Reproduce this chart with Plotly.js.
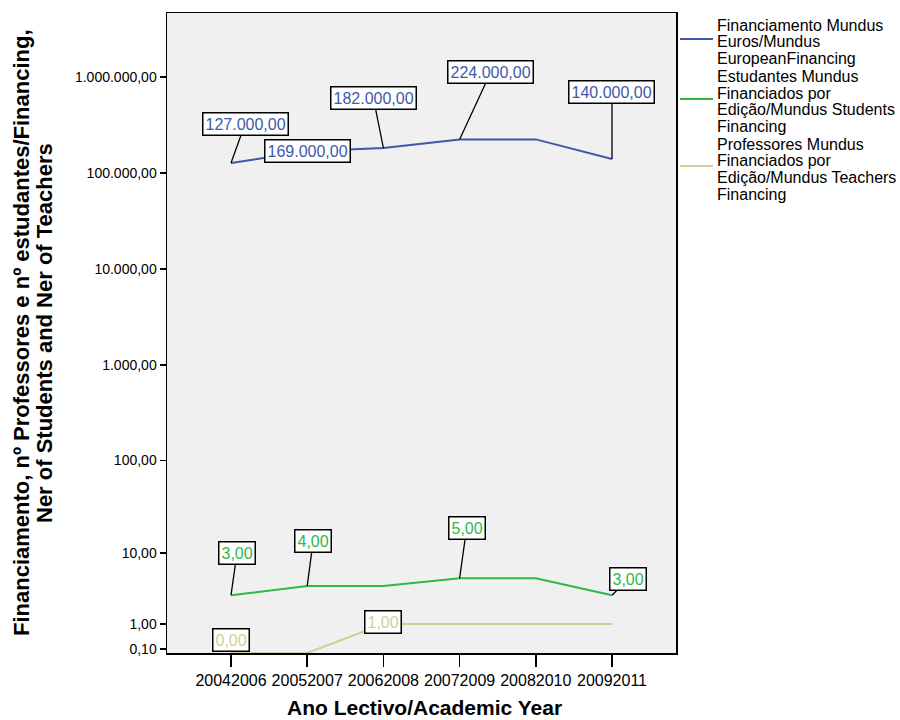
<!DOCTYPE html>
<html><head><meta charset="utf-8">
<script src="https://cdn.plot.ly/plotly-3.0.1.min.js"></script>
<style>html,body{margin:0;padding:0;background:#fff}</style>
</head><body>
<div id="chart" style="width:900px;height:720px"></div>
<script>
const years = ["20042006","20052007","20062008","20072009","20082010","20092011"];
const financing = [127000,169000,182000,224000,224000,140000];
const students = [3,4,4,5,5,3];
const teachers = [0,0,1,1,1,1];
const tickValues = [0.1,1,10,100,1000,10000,100000,1000000];
const tickLabels = ["0,10","1,00","10,00","100,00","1.000,00","10.000,00","100.000,00","1.000.000,00"];
const seriesNames = [
  ["Financiamento Mundus","Euros/Mundus","EuropeanFinancing"],
  ["Estudantes Mundus","Financiados por","Edição/Mundus Students","Financing"],
  ["Professores Mundus","Financiados por","Edição/Mundus Teachers","Financing"]
];
const yTitleLines = ["Financiamento, nº Professores e nº estudantes/Financing,", "Ner of Students and Ner of Teachers"];
const xTitle = "Ano Lectivo/Academic Year";
const colors = ["#3e58ac","#2eb848","#d3ce97"];
// point labels: [series index, category index, text, ax, ay, arrow]
const pointLabels = [
  [0,0,"127.000,00",14,-39,true],
  [0,1,"169.000,00",0,0,false],
  [0,2,"182.000,00",-10,-50,true],
  [0,3,"224.000,00",31,-67,true],
  [0,5,"140.000,00",0,-67,true],
  [1,0,"3,00",6,-42,true],
  [1,1,"4,00",6,-45,true],
  [1,3,"5,00",7,-50,true],
  [1,5,"3,00",16,-16,true],
  [2,0,"0,00",0,-13,false],
  [2,2,"1,00",0,-2,false]
];

const FONT = "Liberation Sans, Arial, sans-serif";
const M = {l: 167, r: 224, t: 13, b: 67};
const W = 900, H = 720;
const PW = W - M.l - M.r, PH = H - M.t - M.b;
const px2x = p => (p - M.l) / PW;
const px2y = p => (H - M.b - p) / PH;

const slog = v => Math.log10(v + 1);
const series = [financing, students, teachers];
const xIdx = years.map((_, i) => i);

const traces = series.map((s, k) => ({
  x: xIdx, y: s.map(slog), type: "scatter", mode: "lines",
  name: seriesNames[k].join(" "), line: {color: colors[k], width: 2},
  hoverinfo: "skip", showlegend: false
}));

const annotations = pointLabels.map(([k, i, txt, ax, ay, arrow]) => {
  const a = {
    x: i, y: slog(series[k][i]), xref: "x", yref: "y",
    text: txt, font: {family: FONT, size: 16, color: colors[k]},
    bgcolor: "#ffffff", bordercolor: "#000000", borderwidth: 1.5, borderpad: 2,
    showarrow: arrow
  };
  if (arrow) {
    Object.assign(a, {ax: ax, ay: ay, arrowhead: 0, arrowwidth: 1.3, arrowcolor: "#000000", standoff: 0});
  } else {
    a.xshift = ax; a.yshift = -ay;
  }
  return a;
});

// manual legend (tight line spacing as in reference)
const shapes = [];
const legendLineY = [39, 99, 166];
let ty = 25;
seriesNames.forEach((lines, k) => {
  shapes.push({type: "line", xref: "paper", yref: "paper",
    x0: px2x(680), x1: px2x(713), y0: px2y(legendLineY[k]), y1: px2y(legendLineY[k]),
    line: {color: colors[k], width: 2}});
  lines.forEach((ln) => {
    annotations.push({xref: "paper", yref: "paper", x: px2x(715), y: px2y(ty),
      xanchor: "left", yanchor: "middle", showarrow: false, text: ln,
      font: {family: FONT, size: 16, color: "#000"}});
    ty += 16.6;
  });
  ty += 1.6;
});

// axis titles
const yTitleX = [21, 44];
yTitleLines.forEach((ln, i) => {
  annotations.push({xref: "paper", yref: "paper", x: px2x(yTitleX[i]), y: px2y(333),
    xanchor: "center", yanchor: "middle", textangle: -90, showarrow: false,
    text: "<b>" + ln + "</b>", font: {family: FONT, size: 22, color: "#000"}});
});
annotations.push({xref: "paper", yref: "paper", x: px2x(424), y: px2y(707),
  xanchor: "center", yanchor: "middle", showarrow: false,
  text: "<b>" + xTitle + "</b>", font: {family: FONT, size: 21, color: "#000"}});

const layout = {
  width: W, height: H,
  margin: M,
  paper_bgcolor: "#ffffff", plot_bgcolor: "#f0f0f0",
  font: {family: FONT, color: "#000000"},
  showlegend: false,
  xaxis: {
    range: [-0.84, 5.84], tickmode: "array", tickvals: xIdx, ticktext: years,
    ticks: "outside", ticklen: 12, tickwidth: 1.5, tickcolor: "#000",
    showline: true, linecolor: "#000", linewidth: 1.5, mirror: true,
    showgrid: false, zeroline: false, fixedrange: true,
    tickfont: {size: 16}
  },
  yaxis: {
    range: [0, 6.667], tickmode: "array", tickvals: tickValues.map(slog), ticktext: tickLabels,
    ticks: "outside", ticklen: 6, tickwidth: 1.5, tickcolor: "#000",
    showline: true, linecolor: "#000", linewidth: 1.5, mirror: true,
    showgrid: false, zeroline: false, fixedrange: true,
    tickfont: {size: 14}
  },
  shapes: shapes,
  annotations: annotations
};

Plotly.newPlot("chart", traces, layout, {displayModeBar: false, staticPlot: true});
</script>
</body></html>
